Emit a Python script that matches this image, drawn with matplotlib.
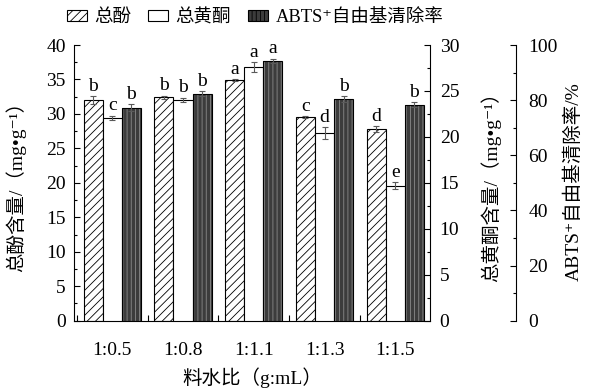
import matplotlib
matplotlib.use("Agg")
import matplotlib.pyplot as plt
from matplotlib.patches import Patch
from matplotlib.ticker import MultipleLocator
import numpy as np

plt.rcParams['font.family'] = ['Liberation Serif', 'Noto Sans CJK SC', 'DejaVu Serif']
plt.rcParams['hatch.linewidth'] = 0.6

# data
ratios = ['1:0.5', '1:0.8', '1:1.1', '1:1.3', '1:1.5']
phenol = [32.0, 32.4, 34.9, 29.5, 27.8]          # mg/g, left axis
phenol_err = [0.6, 0.25, 0.1, 0.15, 0.4]
flavone = [22.05, 24.0, 27.6, 20.4, 14.7]        # mg/g, right axis
flavone_err = [0.25, 0.25, 0.5, 0.65, 0.4]
abts = [77.2, 82.4, 94.2, 80.3, 78.3]            # %, far right axis
abts_err = [1.3, 0.85, 0.9, 1.1, 0.9]
phenol_sig = ['b', 'b', 'a', 'c', 'd']
flavone_sig = ['c', 'b', 'a', 'd', 'e']
abts_sig = ['b', 'b', 'a', 'b', 'b']

x = np.arange(len(ratios))
w = 0.27
dark = '#3c3c3c'
ecol = '#5a5a5a'

fig = plt.figure(figsize=(5.9, 3.91), dpi=100)
ax = fig.add_axes([0.1254, 0.1798, 0.6034, 0.7051])
ax2 = ax.twinx()
ax3 = ax.twinx()

# total phenol (hatched)
ax.bar(x - w, phenol, w, color='white', edgecolor='black', hatch='////', linewidth=0.8)
ax.errorbar(x - w, phenol, yerr=phenol_err, fmt='none', ecolor=ecol, elinewidth=0.8, capsize=2.5, capthick=0.8)

# total flavone (white)
ax2.bar(x, flavone, w, color='white', edgecolor='black', linewidth=0.8)
ax2.errorbar(x, flavone, yerr=flavone_err, fmt='none', ecolor=ecol, elinewidth=0.8, capsize=2.5, capthick=0.8)

# ABTS (dark with vertical lines)
ax3.bar(x + w, abts, w, color=dark, edgecolor='#8a8a8a', hatch='||||', linewidth=0)
ax3.bar(x + w, abts, w, fill=False, edgecolor='black', linewidth=0.8)
ax3.errorbar(x + w, abts, yerr=abts_err, fmt='none', ecolor=ecol, elinewidth=0.8, capsize=2.5, capthick=0.8)

for a, xs, vals, errs, sig in [(ax, x - w, phenol, phenol_err, phenol_sig),
                               (ax2, x, flavone, flavone_err, flavone_sig),
                               (ax3, x + w, abts, abts_err, abts_sig)]:
    for xi, v, e, s in zip(xs, vals, errs, sig):
        a.annotate(s, (xi, v + e), xytext=(0, 1), textcoords='offset points',
                   ha='center', va='bottom', fontsize=14)

ax.set_xlim(-0.54, 4.49)
ax.set_ylim(0, 40)
ax2.set_ylim(0, 30)
ax3.set_ylim(0, 100)

ax.set_xticks(x)
ax.set_xticklabels(ratios)
ax.xaxis.set_minor_locator(MultipleLocator(0.5))
ax.tick_params(axis='x', which='both', direction='in', length=4, width=0.8, pad=15, labelsize=14)
ax.yaxis.set_major_locator(MultipleLocator(5))
ax.yaxis.set_minor_locator(MultipleLocator(2.5))
ax.tick_params(axis='y', which='major', direction='in', length=4, width=0.8, pad=6, labelsize=14)
ax.tick_params(axis='y', which='minor', direction='in', length=2.5, width=0.8)

ax2.yaxis.set_major_locator(MultipleLocator(5))
ax2.yaxis.set_minor_locator(MultipleLocator(2.5))
ax2.tick_params(axis='y', which='major', direction='in', length=4, width=0.8, pad=7, labelsize=14)
ax2.tick_params(axis='y', which='minor', direction='in', length=2.5, width=0.8)

ax3.spines['right'].set_position(('axes', 1.2416))
ax3.yaxis.set_major_locator(MultipleLocator(20))
ax3.yaxis.set_minor_locator(MultipleLocator(10))
ax3.tick_params(axis='y', which='major', direction='in', length=4, width=0.8, pad=9, labelsize=14)
ax3.tick_params(axis='y', which='minor', direction='in', length=2.5, width=0.8)

for s in ['top', 'right']:
    ax.spines[s].set_visible(False)
for s in ['top', 'left', 'bottom']:
    ax2.spines[s].set_visible(False)
    ax3.spines[s].set_visible(False)
for a in (ax, ax2, ax3):
    for s in a.spines.values():
        s.set_linewidth(0.8)

ax.set_xlabel('料水比（g:mL）', fontsize=14, labelpad=6)
fig.text(0.026, 0.535, '总酚含量/（mg•g⁻¹）', rotation=90, ha='center', va='center', fontsize=14)
fig.text(0.832, 0.535, '总黄酮含量/（mg•g⁻¹）', rotation=90, ha='center', va='center', fontsize=14)
fig.text(0.972, 0.535, 'ABTS⁺自由基清除率/%', rotation=90, ha='center', va='center', fontsize=14)

handles = [Patch(facecolor='white', edgecolor='black', hatch='////', linewidth=0.8),
           Patch(facecolor='white', edgecolor='black', linewidth=0.8),
           Patch(facecolor=dark, edgecolor='black', hatch='||||', linewidth=0.8)]
fig.legend(handles, ['总酚', '总黄酮', 'ABTS⁺自由基清除率'], loc='center', bbox_to_anchor=(0.432, 0.955),
           ncol=3, frameon=False, fontsize=13.3, handlelength=1.1, handleheight=0.55,
           handletextpad=0.4, columnspacing=0.9, borderpad=0)

fig.savefig('out.png', dpi=100)
